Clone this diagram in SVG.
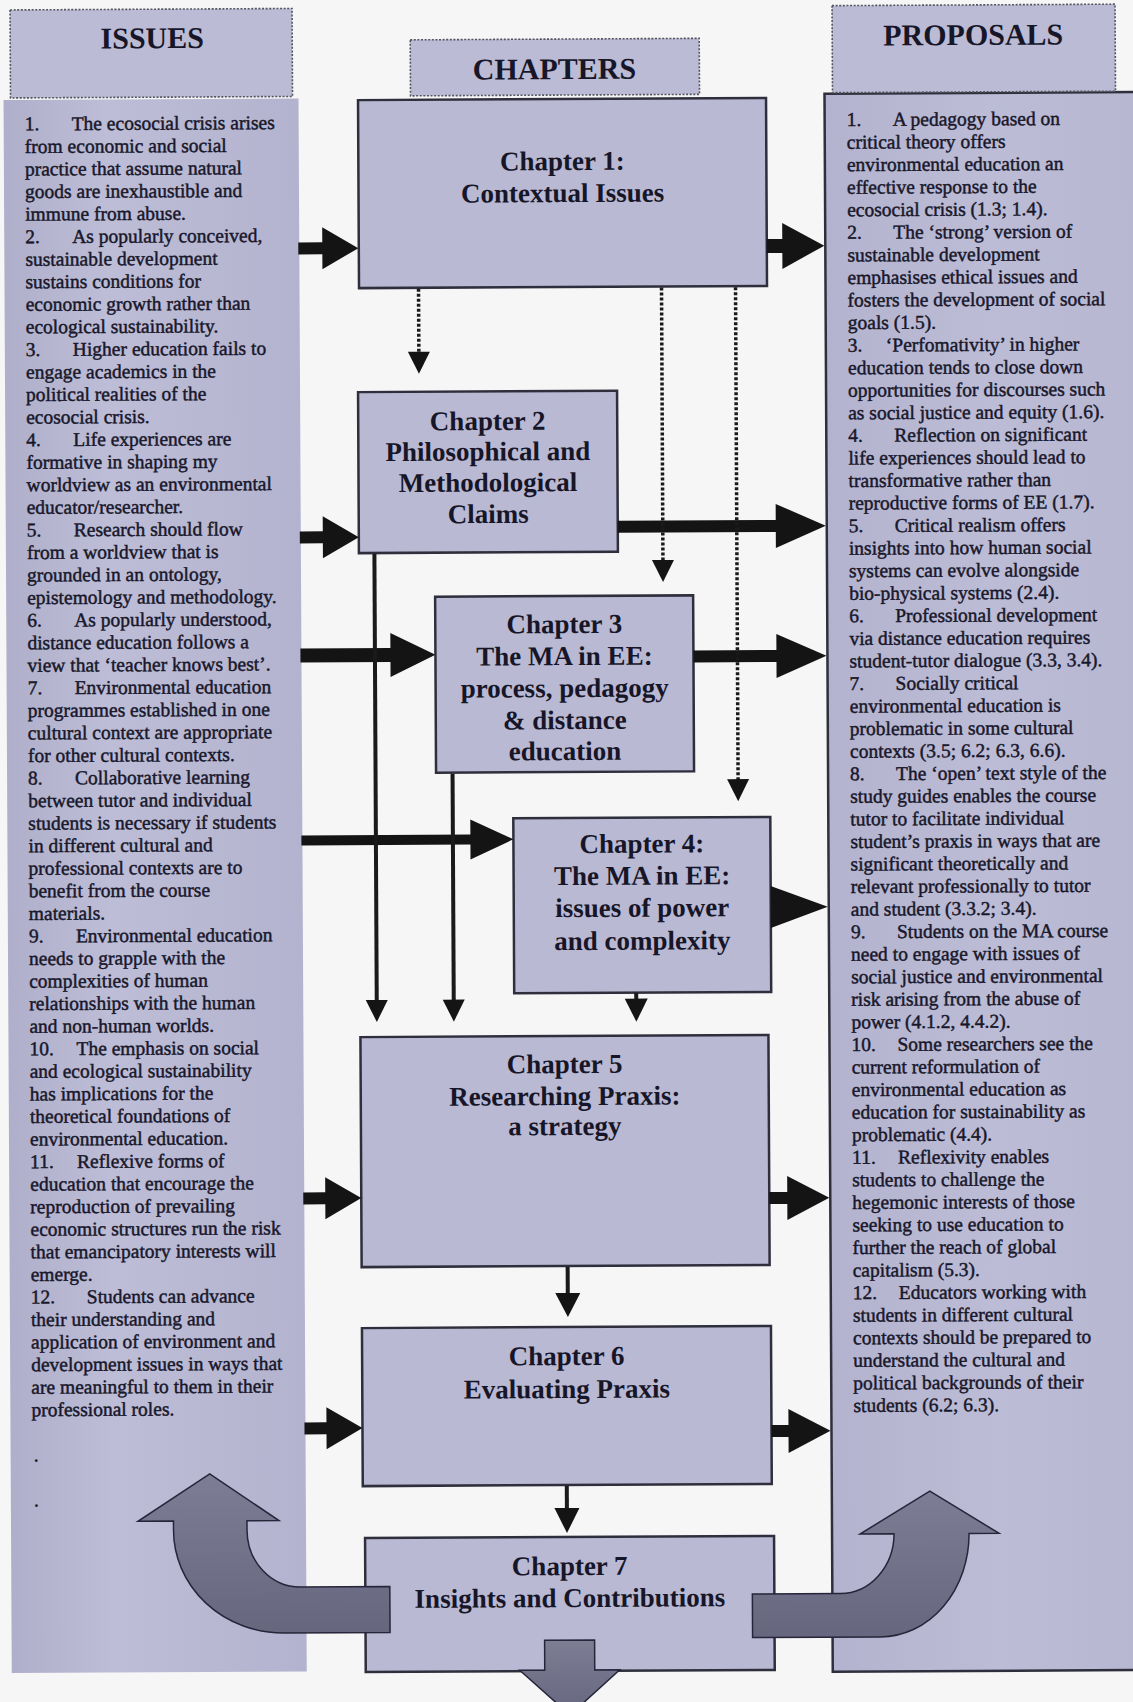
<svg xmlns="http://www.w3.org/2000/svg" width="1133" height="1702" viewBox="0 0 1133 1702">
<defs>
<linearGradient id="colL" x1="0" x2="1" y1="0" y2="0">
<stop offset="0" stop-color="#afafcb"/>
<stop offset="0.35" stop-color="#bdbdd7"/>
<stop offset="1" stop-color="#b3b3cf"/>
</linearGradient>
<linearGradient id="colR" x1="0" x2="1" y1="0" y2="0">
<stop offset="0" stop-color="#b3b3cf"/>
<stop offset="0.5" stop-color="#bcbcd6"/>
<stop offset="1" stop-color="#b6b6d1"/>
</linearGradient>
<linearGradient id="bentG" x1="0" x2="0" y1="0" y2="1">
<stop offset="0" stop-color="#7e7d96"/>
<stop offset="1" stop-color="#67667f"/>
</linearGradient>
<style>
.bg{fill:#f6f6f7}
.box{fill:#b9b9d4;stroke:#2e2e3c;stroke-width:2.5}
.hdr{fill:#bbbbd5;stroke:#55555f;stroke-width:1.6;stroke-dasharray:2 1.6}
.hdrtxt{font-family:"Liberation Serif","Times New Roman",serif;font-weight:bold;font-size:30px;fill:#171628;text-anchor:middle}
.chtxt{font-family:"Liberation Serif","Times New Roman",serif;font-weight:bold;font-size:27px;fill:#171628;text-anchor:middle}
.body{font-family:"Liberation Serif","Times New Roman",serif;font-size:19.5px;fill:#18172a;stroke:#18172a;stroke-width:0.45}
.blk{fill:#141414}
.thin{stroke:#1a1a1a;stroke-width:4;fill:none}
.dot{stroke:#1a1a1a;stroke-width:3.5;stroke-dasharray:3 2;fill:none}
.bent{fill:url(#bentG);stroke:#26253a;stroke-width:1.5}
</style>
</defs>
<rect class="bg" x="0" y="0" width="1133" height="1702"/>
<g transform="rotate(-0.3)">

<g id="issues-column">
<rect x="3" y="100" width="295" height="1573" fill="url(#colL)"/>
<text class="body">
<tspan x="24" y="130.5">1.</tspan><tspan x="71" y="130.5">The ecosocial crisis arises</tspan>
<tspan x="24" y="153.1">from economic and social</tspan>
<tspan x="24" y="175.6">practice that assume natural</tspan>
<tspan x="24" y="198.2">goods are inexhaustible and</tspan>
<tspan x="24" y="220.7">immune from abuse.</tspan>
<tspan x="24" y="243.3">2.</tspan><tspan x="71" y="243.3">As popularly conceived,</tspan>
<tspan x="24" y="265.9">sustainable development</tspan>
<tspan x="24" y="288.4">sustains conditions for</tspan>
<tspan x="24" y="311">economic growth rather than</tspan>
<tspan x="24" y="333.5">ecological sustainability.</tspan>
<tspan x="24" y="356.1">3.</tspan><tspan x="71" y="356.1">Higher education fails to</tspan>
<tspan x="24" y="378.7">engage academics in the</tspan>
<tspan x="24" y="401.2">political realities of the</tspan>
<tspan x="24" y="423.8">ecosocial crisis.</tspan>
<tspan x="24" y="446.3">4.</tspan><tspan x="71" y="446.3">Life experiences are</tspan>
<tspan x="24" y="468.9">formative in shaping my</tspan>
<tspan x="24" y="491.5">worldview as an environmental</tspan>
<tspan x="24" y="514">educator/researcher.</tspan>
<tspan x="24" y="536.6">5.</tspan><tspan x="71" y="536.6">Research should flow</tspan>
<tspan x="24" y="559.1">from a worldview that is</tspan>
<tspan x="24" y="581.7">grounded in an ontology,</tspan>
<tspan x="24" y="604.3">epistemology and methodology.</tspan>
<tspan x="24" y="626.8">6.</tspan><tspan x="71" y="626.8">As popularly understood,</tspan>
<tspan x="24" y="649.4">distance education follows a</tspan>
<tspan x="24" y="671.9">view that ‘teacher knows best’.</tspan>
<tspan x="24" y="694.5">7.</tspan><tspan x="71" y="694.5">Environmental education</tspan>
<tspan x="24" y="717.1">programmes established in one</tspan>
<tspan x="24" y="739.6">cultural context are appropriate</tspan>
<tspan x="24" y="762.2">for other cultural contexts.</tspan>
<tspan x="24" y="784.7">8.</tspan><tspan x="71" y="784.7">Collaborative learning</tspan>
<tspan x="24" y="807.3">between tutor and individual</tspan>
<tspan x="24" y="829.9">students is necessary if students</tspan>
<tspan x="24" y="852.4">in different cultural and</tspan>
<tspan x="24" y="875">professional contexts are to</tspan>
<tspan x="24" y="897.5">benefit from the course</tspan>
<tspan x="24" y="920.1">materials.</tspan>
<tspan x="24" y="942.7">9.</tspan><tspan x="71" y="942.7">Environmental education</tspan>
<tspan x="24" y="965.2">needs to grapple with the</tspan>
<tspan x="24" y="987.8">complexities of human</tspan>
<tspan x="24" y="1010.3">relationships with the human</tspan>
<tspan x="24" y="1032.9">and non-human worlds.</tspan>
<tspan x="24" y="1055.5">10.</tspan><tspan x="71" y="1055.5">The emphasis on social</tspan>
<tspan x="24" y="1078">and ecological sustainability</tspan>
<tspan x="24" y="1100.6">has implications for the</tspan>
<tspan x="24" y="1123.1">theoretical foundations of</tspan>
<tspan x="24" y="1145.7">environmental education.</tspan>
<tspan x="24" y="1168.3">11.</tspan><tspan x="71" y="1168.3">Reflexive forms of</tspan>
<tspan x="24" y="1190.8">education that encourage the</tspan>
<tspan x="24" y="1213.4">reproduction of prevailing</tspan>
<tspan x="24" y="1235.9">economic structures run the risk</tspan>
<tspan x="24" y="1258.5">that emancipatory interests will</tspan>
<tspan x="24" y="1281.1">emerge.</tspan>
<tspan x="24" y="1303.6">12.</tspan><tspan x="80" y="1303.6">Students can advance</tspan>
<tspan x="24" y="1326.2">their understanding and</tspan>
<tspan x="24" y="1348.7">application of environment and</tspan>
<tspan x="24" y="1371.3">development issues in ways that</tspan>
<tspan x="24" y="1393.9">are meaningful to them in their</tspan>
<tspan x="24" y="1416.4">professional roles.</tspan>
<tspan x="26" y="1461.6">.</tspan>
<tspan x="26" y="1506.7">.</tspan>
</text>
</g>

<g id="proposals-column">
<rect class="box" x="824" y="98" width="330" height="1578" style="fill:url(#colR)"/>
<text class="body">
<tspan x="846" y="130.5">1.</tspan><tspan x="892" y="130.5">A pedagogy based on</tspan>
<tspan x="846" y="153.1">critical theory offers</tspan>
<tspan x="846" y="175.6">environmental education an</tspan>
<tspan x="846" y="198.2">effective response to the</tspan>
<tspan x="846" y="220.7">ecosocial crisis (1.3; 1.4).</tspan>
<tspan x="846" y="243.3">2.</tspan><tspan x="892" y="243.3">The ‘strong’ version of</tspan>
<tspan x="846" y="265.9">sustainable development</tspan>
<tspan x="846" y="288.4">emphasises ethical issues and</tspan>
<tspan x="846" y="311">fosters the development of social</tspan>
<tspan x="846" y="333.5">goals (1.5).</tspan>
<tspan x="846" y="356.1">3.</tspan><tspan x="884" y="356.1">‘Perfomativity’ in higher</tspan>
<tspan x="846" y="378.7">education tends to close down</tspan>
<tspan x="846" y="401.2">opportunities for discourses such</tspan>
<tspan x="846" y="423.8">as social justice and equity (1.6).</tspan>
<tspan x="846" y="446.3">4.</tspan><tspan x="892" y="446.3">Reflection on significant</tspan>
<tspan x="846" y="468.9">life experiences should lead to</tspan>
<tspan x="846" y="491.5">transformative rather than</tspan>
<tspan x="846" y="514">reproductive forms of EE (1.7).</tspan>
<tspan x="846" y="536.6">5.</tspan><tspan x="892" y="536.6">Critical realism offers</tspan>
<tspan x="846" y="559.1">insights into how human social</tspan>
<tspan x="846" y="581.7">systems can evolve alongside</tspan>
<tspan x="846" y="604.3">bio-physical systems (2.4).</tspan>
<tspan x="846" y="626.8">6.</tspan><tspan x="892" y="626.8">Professional development</tspan>
<tspan x="846" y="649.4">via distance education requires</tspan>
<tspan x="846" y="671.9">student-tutor dialogue (3.3, 3.4).</tspan>
<tspan x="846" y="694.5">7.</tspan><tspan x="892" y="694.5">Socially critical</tspan>
<tspan x="846" y="717.1">environmental education is</tspan>
<tspan x="846" y="739.6">problematic in some cultural</tspan>
<tspan x="846" y="762.2">contexts (3.5; 6.2; 6.3, 6.6).</tspan>
<tspan x="846" y="784.7">8.</tspan><tspan x="892" y="784.7">The ‘open’ text style of the</tspan>
<tspan x="846" y="807.3">study guides enables the course</tspan>
<tspan x="846" y="829.9">tutor to facilitate individual</tspan>
<tspan x="846" y="852.4">student’s praxis in ways that are</tspan>
<tspan x="846" y="875">significant theoretically and</tspan>
<tspan x="846" y="897.5">relevant professionally to tutor</tspan>
<tspan x="846" y="920.1">and student (3.3.2; 3.4).</tspan>
<tspan x="846" y="942.7">9.</tspan><tspan x="892" y="942.7">Students on the MA course</tspan>
<tspan x="846" y="965.2">need to engage with issues of</tspan>
<tspan x="846" y="987.8">social justice and environmental</tspan>
<tspan x="846" y="1010.3">risk arising from the abuse of</tspan>
<tspan x="846" y="1032.9">power (4.1.2, 4.4.2).</tspan>
<tspan x="846" y="1055.5">10.</tspan><tspan x="892" y="1055.5">Some researchers see the</tspan>
<tspan x="846" y="1078">current reformulation of</tspan>
<tspan x="846" y="1100.6">environmental education as</tspan>
<tspan x="846" y="1123.1">education for sustainability as</tspan>
<tspan x="846" y="1145.7">problematic (4.4).</tspan>
<tspan x="846" y="1168.3">11.</tspan><tspan x="892" y="1168.3">Reflexivity enables</tspan>
<tspan x="846" y="1190.8">students to challenge the</tspan>
<tspan x="846" y="1213.4">hegemonic interests of those</tspan>
<tspan x="846" y="1235.9">seeking to use education to</tspan>
<tspan x="846" y="1258.5">further the reach of global</tspan>
<tspan x="846" y="1281.1">capitalism (5.3).</tspan>
<tspan x="846" y="1303.6">12.</tspan><tspan x="892" y="1303.6">Educators working with</tspan>
<tspan x="846" y="1326.2">students in different cultural</tspan>
<tspan x="846" y="1348.7">contexts should be prepared to</tspan>
<tspan x="846" y="1371.3">understand the cultural and</tspan>
<tspan x="846" y="1393.9">political backgrounds of their</tspan>
<tspan x="846" y="1416.4">students (6.2; 6.3).</tspan>
</text>
</g>

<g id="issues-header">
<rect class="hdr" x="10" y="10" width="282" height="88"/>
<text class="hdrtxt" x="152" y="49">ISSUES</text>
</g>
<g id="chapters-header">
<rect class="hdr" x="410" y="42" width="289" height="56"/>
<text class="hdrtxt" x="554" y="82">CHAPTERS</text>
</g>
<g id="proposals-header">
<rect class="hdr" x="832" y="10" width="283" height="87"/>
<text class="hdrtxt" x="973" y="50">PROPOSALS</text>
</g>

<g id="ch1">
<rect class="box" x="357.5" y="102" width="408" height="188"/>
<text class="chtxt"><tspan x="561.5" y="173">Chapter 1:</tspan><tspan x="561.5" y="205">Contextual Issues</tspan></text>
</g>
<g id="ch2">
<rect class="box" x="356" y="394" width="259" height="161"/>
<text class="chtxt"><tspan x="485.5" y="432.5">Chapter 2</tspan><tspan x="485.5" y="463">Philosophical and</tspan><tspan x="485.5" y="494">Methodological</tspan><tspan x="485.5" y="525.5">Claims</tspan></text>
</g>
<g id="ch3">
<rect class="box" x="432" y="599" width="258" height="176"/>
<text class="chtxt"><tspan x="561" y="636">Chapter 3</tspan><tspan x="561" y="668">The MA in EE:</tspan><tspan x="561" y="700">process, pedagogy</tspan><tspan x="561" y="732">&amp; distance</tspan><tspan x="561" y="763">education</tspan></text>
</g>
<g id="ch4">
<rect class="box" x="509" y="821" width="257" height="175"/>
<text class="chtxt"><tspan x="637.5" y="856">Chapter 4:</tspan><tspan x="637.5" y="888">The MA in EE:</tspan><tspan x="637.5" y="920">issues of power</tspan><tspan x="637.5" y="953">and complexity</tspan></text>
</g>
<g id="ch5">
<rect class="box" x="355" y="1039" width="408" height="230"/>
<text class="chtxt"><tspan x="559" y="1076">Chapter 5</tspan><tspan x="559" y="1108">Researching Praxis:</tspan><tspan x="559" y="1138">a strategy</tspan></text>
</g>
<g id="ch6">
<rect class="box" x="355" y="1330" width="409" height="158"/>
<text class="chtxt"><tspan x="559.5" y="1368">Chapter 6</tspan><tspan x="559.5" y="1401">Evaluating Praxis</tspan></text>
</g>
<g id="ch7">
<rect class="box" x="357" y="1540" width="409" height="134"/>
<text class="chtxt"><tspan x="561.5" y="1578">Chapter 7</tspan><tspan x="561.5" y="1610">Insights and Contributions</tspan></text>
</g>

<g id="connectors">
<path class="blk" d="M297 244 L321 244 L321 229 L357 250 L321 271 L321 256 L297 256 Z"/>
<path class="blk" d="M297 533 L320 533 L320 518 L356 539 L320 560 L320 545 L297 545 Z"/>
<path class="blk" d="M297 650 L387 650 L387 635 L432 657 L387 679 L387 664 L297 664 Z"/>
<path class="blk" d="M297 837 L466 837 L466 822 L509 842 L466 862 L466 847 L297 847 Z"/>
<path class="blk" d="M297 1194 L319 1194 L319 1179 L355 1200 L319 1221 L319 1206 L297 1206 Z"/>
<path class="blk" d="M297 1424 L319 1424 L319 1409 L355 1430 L319 1451 L319 1436 L297 1436 Z"/>
<path class="blk" d="M765.5 243 L781 243 L781 227 L823 250 L781 273 L781 257 L765.5 257 Z"/>
<path class="blk" d="M615 524 L773 524 L773 508 L823 530 L773 552 L773 536 L615 536 Z"/>
<path class="blk" d="M690 654 L773 654 L773 638 L823 660 L773 682 L773 666 L690 666 Z"/>
<path class="blk" d="M766 890 L823 911 L766 932 Z"/>
<path class="blk" d="M763 1196 L781 1196 L781 1180 L823 1202 L781 1224 L781 1208 L763 1208 Z"/>
<path class="blk" d="M764 1429 L781 1429 L781 1413 L823 1435 L781 1457 L781 1441 L764 1441 Z"/>
<path class="dot" d="M417 291 V356"/>
<path class="blk" d="M406 354 L428 354 L417 376 Z"/>
<path class="dot" d="M660 291 V565"/>
<path class="blk" d="M649 563.5 L671 563.5 L660 585.5 Z"/>
<path class="dot" d="M734 291 V785"/>
<path class="blk" d="M723 783 L745 783 L734 805 Z"/>
<path class="thin" d="M371.5 556 V1004"/>
<path class="blk" d="M360.5 1002 L382.5 1002 L371.5 1024 Z"/>
<path class="thin" d="M448.5 776 V1004"/>
<path class="blk" d="M437.5 1002 L459.5 1002 L448.5 1024 Z"/>
<path class="thin" d="M631 996 V1004"/>
<path class="blk" d="M619.5 1002 L642.5 1002 L631 1025 Z"/>
<path class="thin" d="M561 1270 V1298"/>
<path class="blk" d="M548.5 1296 L573.5 1296 L561 1320 Z"/>
<path class="thin" d="M559 1489 V1513"/>
<path class="blk" d="M546.5 1511 L571.5 1511 L559 1536 Z"/>
<path class="bent" d="M381.5 1588.5 L292 1588.5 A53 57 0 0 1 239 1531.5 L239 1522 L271 1522 L202 1475 L130 1522 L165.5 1522 L165.5 1531 A110 103 0 0 0 275.5 1634.5 L381.5 1634.5 Z"/>
<path class="bent" d="M744 1598 L832 1598 A54 60 0 0 0 886 1538.5 L852 1538.5 L922 1496 L991 1538.5 L961 1538.5 A89 103 0 0 1 872 1641.5 L744 1641.5 Z"/>
<path class="bent" d="M536 1643 L586 1643 L586 1673 L611 1673 L561 1718 L511 1673 L536 1673 Z"/>
</g>
</g>
</svg>
